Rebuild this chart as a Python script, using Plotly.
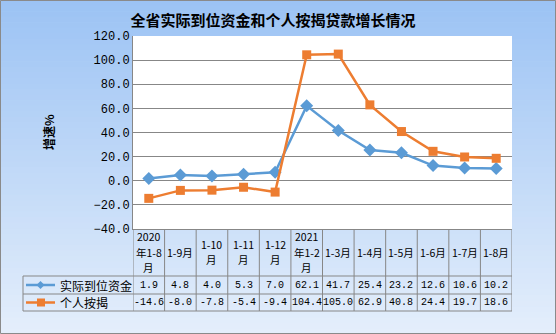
import plotly.graph_objects as go

categories = ["2020<br>年1-8<br>月", "1-9月", "1-10<br>月", "1-11<br>月", "1-12<br>月",
              "2021<br>年1-2<br>月", "1-3月", "1-4月", "1-5月", "1-6月", "1-7月", "1-8月"]
series_names = ["实际到位资金", "个人按揭"]
funds = [1.9, 4.8, 4.0, 5.3, 7.0, 62.1, 41.7, 25.4, 23.2, 12.6, 10.6, 10.2]
mortgage = [-14.6, -8.0, -7.8, -5.4, -9.4, 104.4, 105.0, 62.9, 40.8, 24.4, 19.7, 18.6]
y_ticks = [-40, -20, 0, 20, 40, 60, 80, 100, 120]

W, H = 556, 334
L, R, T, B = 133, 512, 36, 229
PW, PH = R - L, B - T

def px(x):
    return (x - L) / PW

def py(y):
    return (B - y) / PH

BLUE = "#5B9BD5"
ORANGE = "#ED7D31"
GRID = "#878787"
n = len(categories)
xs = list(range(n))

fig = go.Figure()
fig.add_trace(go.Scatter(x=xs, y=funds, mode="lines+markers", name=series_names[0],
                         line=dict(color=BLUE, width=2.5),
                         marker=dict(symbol="diamond", size=10, color=BLUE)))
fig.add_trace(go.Scatter(x=xs, y=mortgage, mode="lines+markers", name=series_names[1],
                         line=dict(color=ORANGE, width=2.5),
                         marker=dict(symbol="square", size=9, color=ORANGE)))

shapes = []
# gradient background
top = (156, 195, 244)
bot = (228, 238, 251)
NB = 60
for i in range(NB):
    t = i / (NB - 1)
    c = tuple(round(top[k] + (bot[k] - top[k]) * t) for k in range(3))
    y0 = H * i / NB
    y1 = H * (i + 1) / NB + 0.6
    shapes.append(dict(type="rect", xref="paper", yref="paper", layer="below",
                       x0=px(0), x1=px(W), y0=py(min(y1, H)), y1=py(y0),
                       line=dict(width=0), fillcolor="rgb(%d,%d,%d)" % c))
# plot area white
shapes.append(dict(type="rect", xref="paper", yref="paper", layer="below",
                   x0=0, x1=1, y0=0, y1=1, line=dict(width=0), fillcolor="white"))
# outer border
shapes.append(dict(type="rect", xref="paper", yref="paper", layer="above",
                   x0=px(0.5), x1=px(W - 0.5), y0=py(H - 0.5), y1=py(0.5),
                   line=dict(width=1, color="#8A8A8A"), fillcolor="rgba(0,0,0,0)"))

# table lines
row_lines = [276, 294, 311]
LEG_L = 23
for yy in row_lines:
    shapes.append(dict(type="line", xref="paper", yref="paper", layer="above",
                       x0=px(LEG_L), x1=1, y0=py(yy), y1=py(yy),
                       line=dict(width=1, color=GRID)))
shapes.append(dict(type="line", xref="paper", yref="paper", layer="above",
                   x0=px(LEG_L), x1=px(LEG_L), y0=py(276), y1=py(311),
                   line=dict(width=1, color=GRID)))
for k in range(n + 1):
    shapes.append(dict(type="line", xref="x", yref="paper", layer="above",
                       x0=k - 0.5, x1=k - 0.5, y0=0, y1=py(311),
                       line=dict(width=1, color=GRID)))

annotations = []
CJK = "Noto Sans CJK SC"
MONO = "Liberation Mono, Noto Sans CJK SC"
for i, c in enumerate(categories):
    parts = c.split("<br>")
    if len(parts) == 3:
        ys = [237, 252, 267]
    elif len(parts) == 2:
        ys = [244.5, 259.5]
    else:
        ys = [252]
    for part, yy in zip(parts, ys):
        annotations.append(dict(x=i, y=py(yy), xref="x", yref="paper", text=part, showarrow=False,
                                font=dict(family=CJK, size=10.5, color="black"),
                                xanchor="center", yanchor="middle"))
    annotations.append(dict(x=i, y=py(285), xref="x", yref="paper", text="%.1f" % funds[i],
                            showarrow=False, font=dict(family=MONO, size=10, color="black"),
                            xanchor="center", yanchor="middle"))
    annotations.append(dict(x=i, y=py(302.5), xref="x", yref="paper", text="%.1f" % mortgage[i],
                            showarrow=False, font=dict(family=MONO, size=10, color="black"),
                            xanchor="center", yanchor="middle"))

# legend keys inside table
for name, color, yy in [(series_names[0], BLUE, 285), (series_names[1], ORANGE, 302.5)]:
    shapes.append(dict(type="line", xref="paper", yref="paper", layer="above",
                       x0=px(26), x1=px(55), y0=py(yy), y1=py(yy),
                       line=dict(width=2.5, color=color)))
    annotations.append(dict(x=px(58), y=py(yy), xref="paper", yref="paper", text=name,
                            showarrow=False, font=dict(family=CJK, size=12, color="black"),
                            xanchor="left", yanchor="middle"))

shapes.append(dict(type="path", xref="paper", yref="paper", layer="above",
                   path="M %f,%f L %f,%f L %f,%f L %f,%f Z" % (
                       px(36.5), py(285), px(40.5), py(281), px(44.5), py(285), px(40.5), py(289)),
                   fillcolor=BLUE, line=dict(width=0)))
shapes.append(dict(type="rect", xref="paper", yref="paper", layer="above",
                   x0=px(37), x1=px(45), y0=py(306.5), y1=py(298.5),
                   fillcolor=ORANGE, line=dict(width=0)))

# y-axis title
annotations.append(dict(x=px(48), y=py(132), xref="paper", yref="paper", text="<b>增速%</b>",
                        textangle=-90, showarrow=False,
                        font=dict(family=CJK, size=12, color="black"),
                        xanchor="center", yanchor="middle"))

fig.update_layout(
    width=W, height=H,
    margin=dict(l=L, r=W - R, t=T, b=H - B, pad=0),
    paper_bgcolor="rgb(190,215,247)",
    plot_bgcolor="rgba(0,0,0,0)",
    showlegend=False,
    title=dict(text="<b>全省实际到位资金和个人按揭贷款增长情况</b>",
               x=px(273), xref="paper", xanchor="center",
               y=1 - 21 / H, yref="container", yanchor="middle",
               font=dict(family=CJK, size=15, color="black")),
    xaxis=dict(range=[-0.5, n - 0.5], showticklabels=False, showgrid=False, zeroline=False,
               showline=True, linecolor=GRID, linewidth=1, ticks="", fixedrange=True),
    yaxis=dict(range=[-40, 120], tickvals=y_ticks, tickformat=".1f", showgrid=True,
               gridcolor=GRID, gridwidth=1, zeroline=False, showline=True, linecolor=GRID,
               linewidth=1, ticks="", ticklen=0,
               tickfont=dict(family=MONO, size=12, color="black"), fixedrange=True),
    shapes=shapes,
    annotations=annotations,
    hovermode=False,
)

fig.write_html("out.html", config={"displayModeBar": False})
